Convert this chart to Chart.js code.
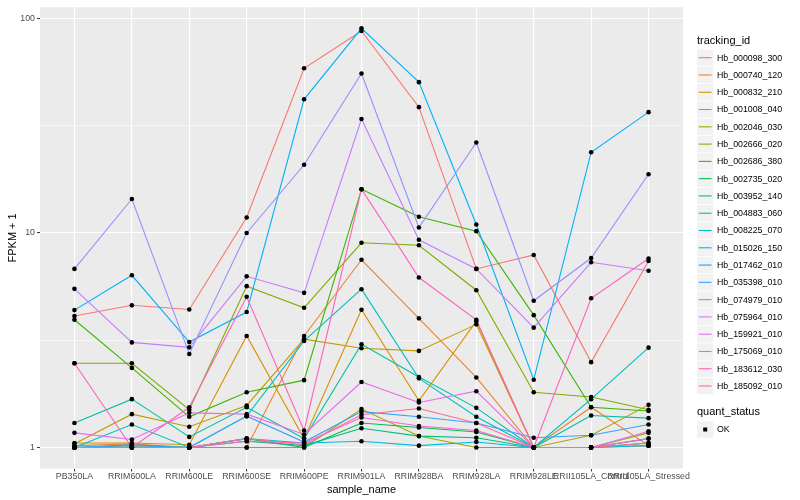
<!DOCTYPE html>
<html>
<head>
<meta charset="utf-8">
<script src="https://cdn.jsdelivr.net/npm/chart.js@4.4.1/dist/chart.umd.min.js"></script>
<style>
  html, body { margin: 0; padding: 0; background: #ffffff; }
  #wrap { width: 800px; height: 500px; }
</style>
</head>
<body>
<div id="wrap"><canvas id="fpkmChart" width="800" height="500"></canvas></div>
<script>
// samples on the x axis
const samples = ["PB350LA", "RRIM600LA", "RRIM600LE", "RRIM600SE", "RRIM600PE", "RRIM901LA",
                 "RRIM928BA", "RRIM928LA", "RRIM928LE", "RRII105LA_Control", "RRII105LA_Stressed"];

const trackingIds = ["Hb_000098_300", "Hb_000740_120", "Hb_000832_210", "Hb_001008_040", "Hb_002046_030",
                     "Hb_002666_020", "Hb_002686_380", "Hb_002735_020", "Hb_003952_140", "Hb_004883_060",
                     "Hb_008225_070", "Hb_015026_150", "Hb_017462_010", "Hb_035398_010", "Hb_074979_010",
                     "Hb_075964_010", "Hb_159921_010", "Hb_175069_010", "Hb_183612_030", "Hb_185092_010"];

// ggplot hue palette, 20 levels
const lineColors = ["#F8766D", "#EA8331", "#D89000", "#C09B00", "#A3A500", "#7CAE00", "#39B600", "#00BB4E",
                    "#00BF7D", "#00C1A3", "#00BFC4", "#00BAE0", "#00B0F6", "#35A2FF", "#9590FF", "#C77CFF",
                    "#E76BF3", "#FA62DB", "#FF62BC", "#FF6C91"];

// FPKM + 1 per sample
const s000098_300 = [4.1, 4.6, 4.4, 11.8, 58.6, 87.5, 38.6, 6.8, 7.9, 2.5, 7.4];
const s000740_120 = [1.02, 1.04, 1.0, 1.0, 3.31, 7.5, 4.0, 2.12, 1.0, 1.54, 1.02];
const s000832_210 = [1.05, 1.05, 1.03, 3.31, 1.1, 4.39, 1.65, 3.88, 1.0, 1.0, 1.02];
const s001008_040 = [1.04, 1.43, 1.25, 1.57, 3.2, 2.9, 2.82, 3.75, 1.0, 1.14, 1.58];
const s002046_030 = [1.0, 1.02, 1.0, 1.0, 1.0, 1.51, 1.13, 1.0, 1.0, 1.0, 1.17];
const s002666_020 = [2.47, 2.47, 1.5, 5.65, 4.48, 9.0, 8.77, 5.41, 1.81, 1.72, 1.5];
const s002686_380 = [3.94, 2.35, 1.39, 1.81, 2.06, 16.0, 11.9, 10.2, 4.14, 1.54, 1.48];
const s002735_020 = [1.0, 1.0, 1.0, 1.1, 1.0, 1.3, 1.24, 1.18, 1.0, 1.0, 1.05];
const s003952_140 = [1.0, 1.0, 1.0, 1.07, 1.02, 1.23, 1.13, 1.11, 1.0, 1.0, 1.1];
const s004883_060 = [1.3, 1.68, 1.12, 1.54, 1.1, 3.03, 2.13, 1.53, 1.0, 1.41, 1.37];
const s008225_070 = [1.0, 1.28, 1.0, 1.4, 3.14, 5.47, 2.1, 1.39, 1.0, 1.68, 2.92];
const s015026_150 = [1.0, 1.03, 1.0, 1.1, 1.05, 1.07, 1.02, 1.06, 1.0, 1.0, 1.02];
const s017462_010 = [4.37, 6.35, 3.1, 4.28, 42.0, 90.0, 50.5, 10.95, 2.07, 23.8, 36.6];
const s035398_010 = [1.0, 1.02, 1.0, 1.4, 1.06, 1.47, 1.39, 1.3, 1.11, 1.14, 1.28];
const s074979_010 = [6.8, 14.4, 2.73, 10.0, 20.8, 55.4, 10.6, 26.4, 4.83, 7.64, 18.8];
const s075964_010 = [5.49, 3.09, 2.93, 6.28, 5.26, 34.0, 9.3, 6.8, 3.62, 7.3, 6.67];
const s159921_010 = [1.17, 1.09, 1.45, 1.43, 1.15, 2.02, 1.62, 1.83, 1.0, 1.0, 1.19];
const s175069_010 = [1.0, 1.0, 1.0, 1.07, 1.05, 1.38, 1.26, 1.2, 1.0, 1.0, 1.1];
const s183612_030 = [2.47, 1.0, 1.54, 5.04, 1.2, 16.0, 6.2, 3.94, 1.0, 4.96, 7.6];
const s185092_010 = [1.0, 1.0, 1.0, 1.1, 1.03, 1.42, 1.52, 1.3, 1.0, 1.0, 1.05];

const seriesValues = [s000098_300, s000740_120, s000832_210, s001008_040, s002046_030,
                      s002666_020, s002686_380, s002735_020, s003952_140, s004883_060,
                      s008225_070, s015026_150, s017462_010, s035398_010, s074979_010,
                      s075964_010, s159921_010, s175069_010, s183612_030, s185092_010];

const yMajorTicks = [1, 10, 100];
const yMinorTicks = [3.1623, 31.623];

const FONT = '"Liberation Sans", Arial, Helvetica, sans-serif';

function toPoints(vals) {
    return vals.map(function (v, i) { return { x: i, y: v }; });
}

// lines first (higher order is drawn first), then all points on top
const datasets = [];
seriesValues.forEach(function (vals, i) {
    datasets.push({
        label: trackingIds[i],
        data: toPoints(vals),
        borderColor: lineColors[i],
        backgroundColor: lineColors[i],
        borderWidth: 1.1,
        pointRadius: 0,
        tension: 0,
        fill: false,
        order: 1000 - i
    });
});
seriesValues.forEach(function (vals, i) {
    datasets.push({
        label: trackingIds[i] + " OK",
        data: toPoints(vals),
        showLine: false,
        pointStyle: "circle",
        pointRadius: 2.3,
        pointBorderWidth: 0,
        pointBackgroundColor: "#000000",
        order: 0
    });
});

// grey panel, like theme_grey
const panelBg = {
    id: "panelBg",
    beforeDraw(chart) {
        const a = chart.chartArea;
        const ctx = chart.ctx;
        ctx.save();
        ctx.fillStyle = "#EBEBEB";
        ctx.fillRect(a.left, a.top, a.right - a.left, a.bottom - a.top);
        ctx.restore();
    }
};

// axis titles and the two ggplot legends
const ggLegend = {
    id: "ggLegend",
    afterDraw(chart) {
        const ctx = chart.ctx;
        const a = chart.chartArea;
        ctx.save();
        ctx.fillStyle = "#000000";
        ctx.textBaseline = "middle";
        ctx.font = "11px " + FONT;

        ctx.textAlign = "center";
        ctx.fillText("sample_name", (a.left + a.right) / 2, 489.5);
        ctx.save();
        ctx.translate(12.5, (a.top + a.bottom) / 2);
        ctx.rotate(-Math.PI / 2);
        ctx.fillText("FPKM + 1", 0, 0);
        ctx.restore();

        ctx.textAlign = "left";
        const keyX = 697, keyW = 17.28, step = 17.28;
        ctx.fillText("tracking_id", keyX, 40.5);
        trackingIds.forEach(function (id, i) {
            const cy = 57.7 + i * step;
            ctx.fillStyle = "#F2F2F2";
            ctx.fillRect(keyX, cy - 8.2, keyW - 1, 16.4);
            ctx.strokeStyle = lineColors[i];
            ctx.lineWidth = 1.1;
            ctx.beginPath();
            ctx.moveTo(keyX + 1.7, cy);
            ctx.lineTo(keyX + keyW - 2.7, cy);
            ctx.stroke();
            ctx.fillStyle = "#000000";
            ctx.font = "8.8px " + FONT;
            ctx.fillText(id, 717, cy + 0.5);
        });

        ctx.font = "11px " + FONT;
        ctx.fillText("quant_status", keyX, 412);
        const okY = 429.5;
        ctx.fillStyle = "#F2F2F2";
        ctx.fillRect(keyX, okY - 8.2, keyW - 1, 16.4);
        ctx.fillStyle = "#000000";
        ctx.fillRect(keyX + 6.2, okY - 2, 4, 4);
        ctx.font = "8.8px " + FONT;
        ctx.fillText("OK", 717, okY + 0.5);
        ctx.restore();
    }
};

new Chart(document.getElementById("fpkmChart"), {
    type: "line",
    data: { datasets: datasets },
    options: {
        responsive: false,
        animation: false,
        devicePixelRatio: 1,
        layout: { padding: { left: 0, right: 117, top: 5.3, bottom: 0 } },
        plugins: {
            legend: { display: false },
            tooltip: { enabled: false }
        },
        scales: {
            x: {
                type: "linear",
                min: -0.6,
                max: samples.length - 0.4,
                afterBuildTicks: function (scale) {
                    scale.ticks = samples.map(function (s, i) { return { value: i }; });
                },
                afterFit: function (scale) { scale.height = 31.5; },
                ticks: {
                    autoSkip: false,
                    maxRotation: 0,
                    minRotation: 0,
                    padding: 0,
                    color: "#4D4D4D",
                    font: { family: FONT, size: 8.8 },
                    callback: function (v) { return samples[v]; }
                },
                grid: {
                    color: "#FFFFFF",
                    lineWidth: 1.1,
                    tickColor: "#333333",
                    tickLength: 3,
                    tickWidth: 1
                },
                border: { display: false }
            },
            y: {
                type: "logarithmic",
                min: 0.798,
                max: 112.8,
                afterBuildTicks: function (scale) {
                    scale.ticks = yMajorTicks.concat(yMinorTicks)
                        .sort(function (p, q) { return p - q; })
                        .map(function (v) { return { value: v }; });
                },
                afterFit: function (scale) { scale.width = 40; },
                ticks: {
                    autoSkip: false,
                    padding: 2,
                    color: "#4D4D4D",
                    font: { family: FONT, size: 8.8 },
                    callback: function (v) { return yMajorTicks.indexOf(v) >= 0 ? String(v) : ""; }
                },
                grid: {
                    color: "#FFFFFF",
                    lineWidth: function (c) {
                        return c.tick && yMajorTicks.indexOf(c.tick.value) >= 0 ? 1.1 : 0.55;
                    },
                    tickColor: function (c) {
                        return c.tick && yMajorTicks.indexOf(c.tick.value) >= 0 ? "#333333" : "rgba(0,0,0,0)";
                    },
                    tickLength: 3,
                    tickWidth: 1
                },
                border: { display: false }
            }
        }
    },
    plugins: [panelBg, ggLegend]
});
</script>
</body>
</html>
